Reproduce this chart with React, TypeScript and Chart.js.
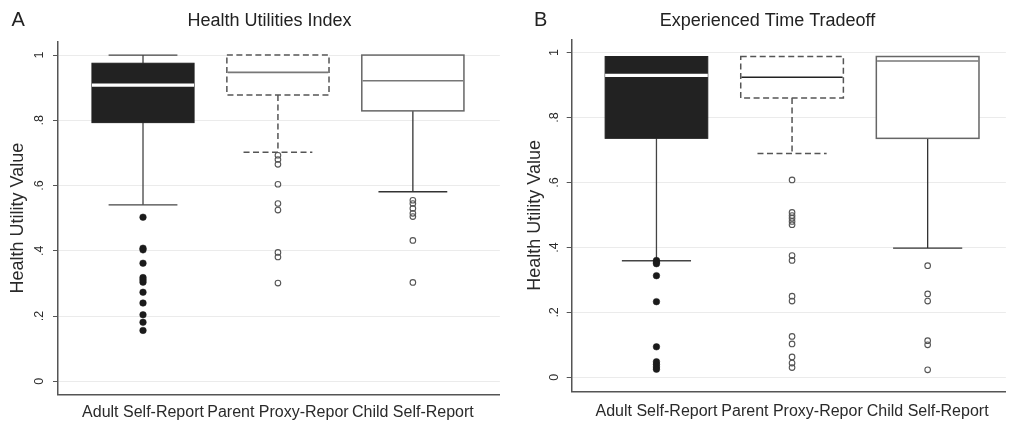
import React, { useEffect, useRef } from "react";
import { Chart, registerables } from "chart.js";

Chart.register(...registerables);

// ---------- data ----------
const categories = ["Adult Self-Report", "Parent Proxy-Repor", "Child Self-Report"];
const yTickValues = [0, 0.2, 0.4, 0.6, 0.8, 1];
const yTickLabels = ["0", ".2", ".4", ".6", ".8", "1"];

// Panel A: Health Utilities Index
const huiLow = [0.541, 0.702, 0.581];
const huiQ1 = [0.793, 0.878, 0.829];
const huiMedian = [0.908, 0.947, 0.921];
const huiQ3 = [0.975, 1.0, 1.0];
const huiHigh = [1.0, 1.0, 1.0];
const huiAdultOutliers = [0.503, 0.408, 0.403, 0.362, 0.318, 0.311, 0.304, 0.273, 0.24, 0.204, 0.181, 0.156];
const huiParentOutliers = [0.693, 0.68, 0.665, 0.604, 0.545, 0.525, 0.395, 0.381, 0.301];
const huiChildOutliers = [0.555, 0.545, 0.53, 0.515, 0.505, 0.432, 0.303];

// Panel B: Experienced Time Tradeoff
const ettLow = [0.359, 0.689, 0.398];
const ettQ1 = [0.736, 0.86, 0.736];
const ettMedian = [0.93, 0.924, 0.974];
const ettQ3 = [0.988, 0.988, 0.988];
const ettHigh = [0.988, 0.988, 0.988];
const ettAdultOutliers = [0.36, 0.355, 0.35, 0.313, 0.233, 0.094, 0.048, 0.04, 0.032, 0.025];
const ettParentOutliers = [0.608, 0.508, 0.498, 0.49, 0.48, 0.47, 0.375, 0.36, 0.25, 0.235, 0.126, 0.103, 0.063, 0.044, 0.03];
const ettChildOutliers = [0.344, 0.257, 0.235, 0.113, 0.1, 0.023];

// ---------- styles ----------
const FONT = '"Liberation Sans", Arial, Helvetica, sans-serif';
const BOX_FRACTION = 0.757;
const CAP_FRACTION = 0.51;

type BoxStyle = {
  fill: string;
  border: string;
  borderWidth: number;
  dash: number[];
  whisker: string;
  whiskerWidth: number;
  median: string;
  medianWidth: number;
};

const adultStyle: BoxStyle = {
  fill: "#222222", border: "#222222", borderWidth: 1, dash: [],
  whisker: "#444444", whiskerWidth: 1.3, median: "#ffffff", medianWidth: 3.2,
};
const parentStyleA: BoxStyle = {
  fill: "#ffffff", border: "#555555", borderWidth: 1.5, dash: [6, 3.5],
  whisker: "#555555", whiskerWidth: 1.5, median: "#777777", medianWidth: 1.6,
};
const parentStyleB: BoxStyle = { ...parentStyleA, median: "#222222", medianWidth: 1.4 };
const childStyle: BoxStyle = {
  fill: "#ffffff", border: "#666666", borderWidth: 1.5, dash: [],
  whisker: "#333333", whiskerWidth: 1.3, median: "#777777", medianWidth: 1.5,
};

type PanelSpec = {
  letter: string;
  title: string;
  letterX: number;
  titleX: number;
  low: number[];
  q1: number[];
  median: number[];
  q3: number[];
  high: number[];
  outliers: number[][];
  styles: BoxStyle[];
  canvasLeft: number;
  canvasWidth: number;
  padTop: number;
  padRight: number;
  yAxisWidth: number;
  xAxisHeight: number;
  xMin: number;
  xMax: number;
  yMin: number;
  yMax: number;
  yTickPadding: number;
  yTitlePadding: number;
  xTickPadding: number;
};

function makeBoxPlugin(p: PanelSpec) {
  return {
    id: "boxes",
    beforeDatasetsDraw(chart: any) {
      const { ctx } = chart;
      const x = chart.scales.x;
      const y = chart.scales.y;
      const step = x.getPixelForValue(1) - x.getPixelForValue(0);
      const bw = step * BOX_FRACTION;
      const cw = step * CAP_FRACTION;
      const line = (x1: number, y1: number, x2: number, y2: number) => {
        ctx.beginPath();
        ctx.moveTo(x1, y1);
        ctx.lineTo(x2, y2);
        ctx.stroke();
      };
      categories.forEach((_, i) => {
        const s = p.styles[i];
        const cx = x.getPixelForValue(i);
        const yl = y.getPixelForValue(p.low[i]);
        const y1 = y.getPixelForValue(p.q1[i]);
        const ym = y.getPixelForValue(p.median[i]);
        const y3 = y.getPixelForValue(p.q3[i]);
        const yh = y.getPixelForValue(p.high[i]);
        ctx.save();
        ctx.lineCap = "butt";
        ctx.strokeStyle = s.whisker;
        ctx.lineWidth = s.whiskerWidth;
        ctx.setLineDash(s.dash);
        line(cx, y1, cx, yl);
        line(cx - cw / 2, yl, cx + cw / 2, yl);
        if (p.high[i] > p.q3[i]) {
          line(cx, y3, cx, yh);
          line(cx - cw / 2, yh, cx + cw / 2, yh);
        }
        ctx.fillStyle = s.fill;
        ctx.fillRect(cx - bw / 2, y3, bw, y1 - y3);
        ctx.strokeStyle = s.border;
        ctx.lineWidth = s.borderWidth;
        ctx.strokeRect(cx - bw / 2, y3, bw, y1 - y3);
        ctx.setLineDash([]);
        ctx.strokeStyle = s.median;
        ctx.lineWidth = s.medianWidth;
        const inset = s.fill === "#ffffff" ? s.borderWidth / 2 : 0;
        line(cx - bw / 2 + inset, ym, cx + bw / 2 - inset, ym);
        ctx.restore();
      });
    },
  };
}

function makeHeadingPlugin(p: PanelSpec) {
  return {
    id: "heading",
    afterDraw(chart: any) {
      const { ctx } = chart;
      ctx.save();
      ctx.fillStyle = "#222222";
      ctx.textBaseline = "alphabetic";
      ctx.textAlign = "left";
      ctx.font = `20px ${FONT}`;
      ctx.fillText(p.letter, p.letterX, 25.5);
      ctx.textAlign = "center";
      ctx.font = `18px ${FONT}`;
      ctx.fillText(p.title, p.titleX, 25.5);
      ctx.restore();
    },
  };
}

function makeConfig(p: PanelSpec): any {
  const pointStyles = [
    { pointRadius: 3.3, pointBackgroundColor: "#1b1b1b", pointBorderColor: "#1b1b1b", pointBorderWidth: 0.5 },
    { pointRadius: 2.8, pointBackgroundColor: "rgba(255,255,255,0)", pointBorderColor: "#555555", pointBorderWidth: 1.1 },
    { pointRadius: 2.8, pointBackgroundColor: "rgba(255,255,255,0)", pointBorderColor: "#555555", pointBorderWidth: 1.1 },
  ];
  return {
    type: "scatter",
    data: {
      datasets: p.outliers.map((vals, i) => ({
        label: categories[i],
        data: vals.map((v) => ({ x: i, y: v })),
        ...pointStyles[i],
      })),
    },
    options: {
      responsive: false,
      animation: false,
      devicePixelRatio: 1,
      layout: { padding: { top: p.padTop, right: p.padRight, left: 0, bottom: 0 } },
      plugins: {
        legend: { display: false },
        tooltip: { enabled: false },
        title: { display: false },
      },
      scales: {
        x: {
          type: "linear",
          min: p.xMin,
          max: p.xMax,
          afterBuildTicks: (s: any) => {
            s.ticks = categories.map((_, i) => ({ value: i }));
          },
          afterFit: (s: any) => {
            s.height = p.xAxisHeight;
          },
          grid: { display: false, drawTicks: false },
          border: { display: true, color: "#555555", width: 1.5 },
          ticks: {
            autoSkip: false,
            maxRotation: 0,
            minRotation: 0,
            padding: p.xTickPadding,
            color: "#2a2a2a",
            font: { family: FONT, size: 16 },
            callback: (v: number) => categories[Math.round(v)],
          },
        },
        y: {
          type: "linear",
          min: p.yMin,
          max: p.yMax,
          afterBuildTicks: (s: any) => {
            s.ticks = yTickValues.map((v) => ({ value: v }));
          },
          afterFit: (s: any) => {
            s.width = p.yAxisWidth;
          },
          grid: {
            color: "#ebebeb",
            lineWidth: 1,
            drawTicks: true,
            tickLength: 5,
            tickColor: "#555555",
            tickWidth: 1,
          },
          border: { display: true, color: "#555555", width: 1.5 },
          ticks: {
            minRotation: 90,
            maxRotation: 90,
            crossAlign: "center",
            padding: p.yTickPadding,
            color: "#2a2a2a",
            font: { family: FONT, size: 12.5 },
            callback: (_v: number, idx: number) => yTickLabels[idx],
          },
          title: {
            display: true,
            text: "Health Utility Value",
            color: "#2a2a2a",
            font: { family: FONT, size: 18 },
            padding: { top: p.yTitlePadding, bottom: 0 },
          },
        },
      },
    },
    plugins: [makeBoxPlugin(p), makeHeadingPlugin(p)],
  };
}

const panelA: PanelSpec = {
  letter: "A",
  title: "Health Utilities Index",
  letterX: 11.5,
  titleX: 269.5,
  low: huiLow,
  q1: huiQ1,
  median: huiMedian,
  q3: huiQ3,
  high: huiHigh,
  outliers: [huiAdultOutliers, huiParentOutliers, huiChildOutliers],
  styles: [adultStyle, parentStyleA, childStyle],
  canvasLeft: 0,
  canvasWidth: 505,
  padTop: 41.7,
  padRight: 5,
  yAxisWidth: 58,
  xAxisHeight: 31.3,
  xMin: -0.63,
  xMax: 2.645,
  yMin: -0.041,
  yMax: 1.041,
  yTickPadding: 7.8,
  yTitlePadding: 7.7,
  xTickPadding: 8.5,
};

const panelB: PanelSpec = {
  letter: "B",
  title: "Experienced Time Tradeoff",
  letterX: 29,
  titleX: 262.5,
  low: ettLow,
  q1: ettQ1,
  median: ettMedian,
  q3: ettQ3,
  high: ettHigh,
  outliers: [ettAdultOutliers, ettParentOutliers, ettChildOutliers],
  styles: [adultStyle, parentStyleB, childStyle],
  canvasLeft: 505,
  canvasWidth: 506,
  padTop: 39.3,
  padRight: 1,
  yAxisWidth: 66.7,
  xAxisHeight: 34.7,
  xMin: -0.625,
  xMax: 2.577,
  yMin: -0.043,
  yMax: 1.041,
  yTickPadding: 6.5,
  yTitlePadding: 19.2,
  xTickPadding: 10.7,
};

function Panel({ spec }: { spec: PanelSpec }) {
  const ref = useRef<HTMLCanvasElement | null>(null);
  useEffect(() => {
    if (!ref.current) return;
    const chart = new Chart(ref.current, makeConfig(spec));
    return () => chart.destroy();
  }, [spec]);
  return (
    <canvas
      ref={ref}
      width={spec.canvasWidth}
      height={426}
      style={{
        position: "absolute",
        left: spec.canvasLeft,
        top: 0,
        width: spec.canvasWidth,
        height: 426,
        display: "block",
      }}
    />
  );
}

export default function App() {
  return (
    <div
      style={{
        position: "absolute",
        left: 0,
        top: 0,
        width: 1011,
        height: 426,
        background: "#ffffff",
        overflow: "hidden",
      }}
    >
      <Panel spec={panelA} />
      <Panel spec={panelB} />
    </div>
  );
}
